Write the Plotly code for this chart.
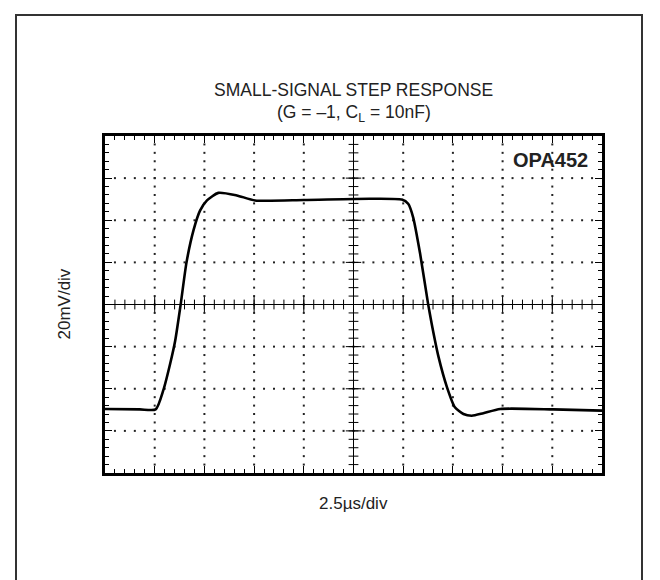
import numpy as np
import plotly.graph_objects as go

# ---- data (time in microseconds, output in millivolts) ----
time_us = [0.0, 1.75, 2.55, 2.93, 3.28, 3.53, 3.80, 4.10, 4.45, 4.78, 5.13, 5.70,
           6.63, 7.55, 10.0, 13.33, 14.93, 15.25, 15.50, 15.85, 16.25, 16.43,
           16.78, 17.20, 17.60, 18.03, 18.45, 19.03, 19.88, 22.55, 25.0]
vout_mV = [-49.6, -49.8, -49.8, -40.8, -28.0, -17.2, -0.4, 20.0, 35.2, 44.6, 49.4, 53.0,
           51.8, 49.4, 49.6, 50.2, 49.8, 47.8, 41.4, 24.2, 0.4, -9.0,
           -25.0, -39.2, -48.8, -52.0, -52.8, -51.6, -49.6, -49.8, -50.4]

x_div = 2.5     # us per division
y_div = 20.0    # mV per division
n_xdiv = 10
n_ydiv = 8

title_line1 = "SMALL-SIGNAL STEP RESPONSE"
title_line2 = "(G = \u20131, C<sub>L</sub> = 10nF)"
x_label = "2.5\u00b5s/div"
y_label = "20mV/div"
part_label = "OPA452"

# ---- layout geometry (page coordinates; the page body adds an 8px margin) ----
OFF = 8
W, H = 652, 572
P_LEFT, P_TOP, P_RIGHT, P_BOTTOM = 105, 136, 602, 473   # plot box on the page
L = P_LEFT - OFF
T = P_TOP - OFF
R = W - (P_RIGHT - OFF)
B = H - (P_BOTTOM - OFF)
PW, PH = W - L - R, H - T - B

def px_x(p):
    return (p - P_LEFT) / PW

def px_y(p):
    return (P_BOTTOM - p) / PH

xmin, xmax = 0.0, n_xdiv * x_div
ymin, ymax = -n_ydiv / 2 * y_div, n_ydiv / 2 * y_div
xc = (xmin + xmax) / 2
yc = 0.0

fig = go.Figure()

# dotted grid
gx, gy = [], []
minor_x = np.arange(0, n_xdiv * 5 + 1) * x_div / 5
minor_y = ymin + np.arange(0, n_ydiv * 5 + 1) * y_div / 5
for k in range(1, n_xdiv):
    xv = k * x_div
    if abs(xv - xc) < 1e-9:
        continue
    for yv in minor_y[1:-1]:
        gx.append(xv); gy.append(yv)
for k in range(1, n_ydiv):
    yv = ymin + k * y_div
    if abs(yv - yc) < 1e-9:
        continue
    for xv in minor_x[1:-1]:
        gx.append(xv); gy.append(yv)
fig.add_trace(go.Scatter(x=gx, y=gy, mode="markers",
                         marker=dict(symbol="square", size=2, color="#222"),
                         hoverinfo="skip", showlegend=False))

# center axes cross ticks
cx_minor = list(minor_x[1:-1])
fig.add_trace(go.Scatter(x=cx_minor, y=[yc] * len(cx_minor), mode="markers",
                         marker=dict(symbol="line-ns", size=7,
                                     line=dict(width=1, color="black")),
                         hoverinfo="skip", showlegend=False))
cy_minor = list(minor_y[1:-1])
fig.add_trace(go.Scatter(x=[xc] * len(cy_minor), y=cy_minor, mode="markers",
                         marker=dict(symbol="line-ew", size=7,
                                     line=dict(width=1, color="black")),
                         hoverinfo="skip", showlegend=False))
major_x = [k * x_div for k in range(1, n_xdiv)]
fig.add_trace(go.Scatter(x=major_x, y=[yc] * len(major_x), mode="markers",
                         marker=dict(symbol="line-ns", size=11,
                                     line=dict(width=1, color="black")),
                         hoverinfo="skip", showlegend=False))
major_y = [ymin + k * y_div for k in range(1, n_ydiv)]
fig.add_trace(go.Scatter(x=[xc] * len(major_y), y=major_y, mode="markers",
                         marker=dict(symbol="line-ew", size=11,
                                     line=dict(width=1, color="black")),
                         hoverinfo="skip", showlegend=False))

# waveform
fig.add_trace(go.Scatter(x=time_us, y=vout_mV, mode="lines",
                         line=dict(color="black", width=2.6, shape="spline", smoothing=0.6),
                         hoverinfo="skip", showlegend=False))

axis_common = dict(showgrid=False, zeroline=False, showline=True, linewidth=3,
                   linecolor="black", mirror="allticks", ticks="inside",
                   ticklen=7, tickwidth=1, tickcolor="black", showticklabels=False,
                   fixedrange=True)

fig.update_xaxes(range=[xmin, xmax], tick0=0, dtick=x_div,
                 minor=dict(dtick=x_div / 5, ticks="inside", ticklen=4,
                            tickwidth=1, tickcolor="black", showgrid=False),
                 **axis_common)
fig.update_yaxes(range=[ymin, ymax], tick0=ymin, dtick=y_div,
                 minor=dict(dtick=y_div / 5, ticks="inside", ticklen=4,
                            tickwidth=1, tickcolor="black", showgrid=False),
                 **axis_common)

shapes = [
    dict(type="line", xref="x", yref="y", x0=xc, x1=xc, y0=ymin, y1=ymax,
         line=dict(color="black", width=1)),
    dict(type="line", xref="x", yref="y", x0=xmin, x1=xmax, y0=yc, y1=yc,
         line=dict(color="black", width=1)),
    dict(type="rect", xref="paper", yref="paper",
         x0=px_x(16), x1=px_x(642), y0=px_y(640), y1=px_y(15),
         line=dict(color="#333", width=2), layer="below"),
]

font = "Liberation Sans, Arial, Helvetica, sans-serif"
ann = [
    dict(text=title_line1, x=0.5, y=px_y(90), xref="paper", yref="paper",
         xanchor="center", yanchor="middle", showarrow=False,
         font=dict(size=17.5, color="#222", family=font)),
    dict(text=title_line2, x=0.5, y=px_y(114), xref="paper", yref="paper",
         xanchor="center", yanchor="middle", showarrow=False,
         font=dict(size=17.5, color="#222", family=font)),
    dict(text=part_label, x=px_x(590), y=px_y(160), xref="paper", yref="paper",
         xanchor="right", yanchor="middle", showarrow=False,
         font=dict(size=20, color="#222", family=font, weight="bold")),
    dict(text=x_label, x=0.5, y=px_y(503), xref="paper", yref="paper",
         xanchor="center", yanchor="middle", showarrow=False,
         font=dict(size=17, color="#222", family=font)),
    dict(text=y_label, x=px_x(64), y=0.5, xref="paper", yref="paper",
         xanchor="center", yanchor="middle", showarrow=False, textangle=-90,
         font=dict(size=17, color="#222", family=font)),
]

fig.update_layout(width=W, height=H, margin=dict(l=L, r=R, t=T, b=B),
                  paper_bgcolor="white", plot_bgcolor="white",
                  shapes=shapes, annotations=ann, showlegend=False)

fig.write_html("out.html")
